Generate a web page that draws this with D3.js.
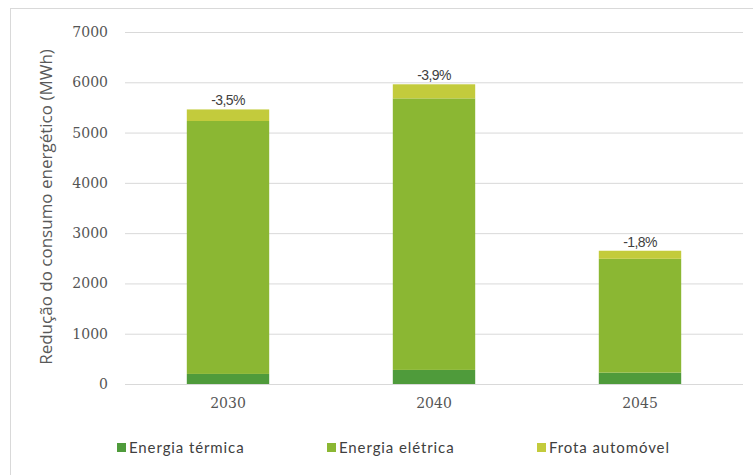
<!DOCTYPE html>
<html><head><meta charset="utf-8">
<script src="https://cdn.jsdelivr.net/npm/d3@7"></script>
<style>body{margin:0;background:#fff}svg{display:block}</style>
</head><body>
<script>
const categories = ["2030", "2040", "2045"];
const termica = [200, 280, 225];
const eletrica = [5030, 5400, 2265];
const frota = [230, 280, 160];
const pctLabels = ["-3,5%", "-3,9%", "-1,8%"];
const yTicks = [0, 1000, 2000, 3000, 4000, 5000, 6000, 7000];
const seriesNames = ["Energia térmica", "Energia elétrica", "Frota automóvel"];
const colors = ["#4f9b3b", "#8bb733", "#c3cb3c"];

const W = 753, H = 475;
const svg = d3.select("body").append("svg").attr("width", W).attr("height", H);
svg.append("rect").attr("x", 10.5).attr("y", 8.5).attr("width", 760).attr("height", 480)
  .attr("fill", "#fff").attr("stroke", "#d9d9d9");

const x = d3.scaleBand().domain(categories).range([125, 743]).paddingInner(0.6).paddingOuter(0.3);
const y = d3.scaleLinear().domain([0, 7000]).range([384, 32]);

const yAxis = svg.append("g").attr("transform", "translate(125,0)")
  .call(d3.axisLeft(y).tickValues(yTicks).tickSize(-618).tickPadding(17).tickFormat(d3.format("d")));
yAxis.select(".domain").remove();
yAxis.selectAll(".tick line").attr("stroke", "#d9d9d9");
yAxis.selectAll(".tick text").attr("fill", "#555").style("font-family", "DejaVu Serif").style("font-size", "14px");

const table = categories.map((c, i) => ({cat: c, t: termica[i], e: eletrica[i], f: frota[i]}));
const stack = d3.stack().keys(["t", "e", "f"])(table);
svg.append("g").selectAll("g").data(stack).join("g").attr("fill", (d, i) => colors[i])
  .selectAll("rect").data(d => d).join("rect")
  .attr("x", d => x(d.data.cat)).attr("width", x.bandwidth())
  .attr("y", d => y(d[1])).attr("height", d => y(d[0]) - y(d[1]));

svg.append("g").selectAll("text").data(table).join("text")
  .attr("x", d => x(d.cat) + x.bandwidth() / 2)
  .attr("y", d => y(d.t + d.e + d.f) - 4)
  .attr("text-anchor", "middle").attr("fill", "#404040")
  .style("font-family", "Liberation Sans").style("font-size", "14px").style("letter-spacing", "-0.6px")
  .text((d, i) => pctLabels[i]);

const xAxis = svg.append("g").attr("transform", "translate(0,384)")
  .call(d3.axisBottom(x).tickSize(0).tickPadding(14));
xAxis.select(".domain").remove();
xAxis.selectAll(".tick text").attr("fill", "#555").style("font-family", "DejaVu Serif").style("font-size", "14px");

svg.append("text").attr("transform", "translate(52,207) rotate(-90)")
  .attr("text-anchor", "middle").attr("fill", "#595959")
  .style("font-family", "Open Sans").style("font-size", "17px")
  .text("Redução do consumo energético (MWh)");

const legendX = [117, 327, 537];
const leg = svg.append("g").selectAll("g").data(seriesNames).join("g")
  .attr("transform", (d, i) => `translate(${legendX[i]},448)`);
leg.append("rect").attr("x", 0).attr("y", -5).attr("width", 9).attr("height", 9).attr("fill", (d, i) => colors[i]);
leg.append("text").attr("x", 12).attr("y", 5).attr("fill", "#404040")
  .style("font-family", "Lato").style("font-size", "15px").style("letter-spacing", "0.9px")
  .text(d => d);
</script>
</body></html>
